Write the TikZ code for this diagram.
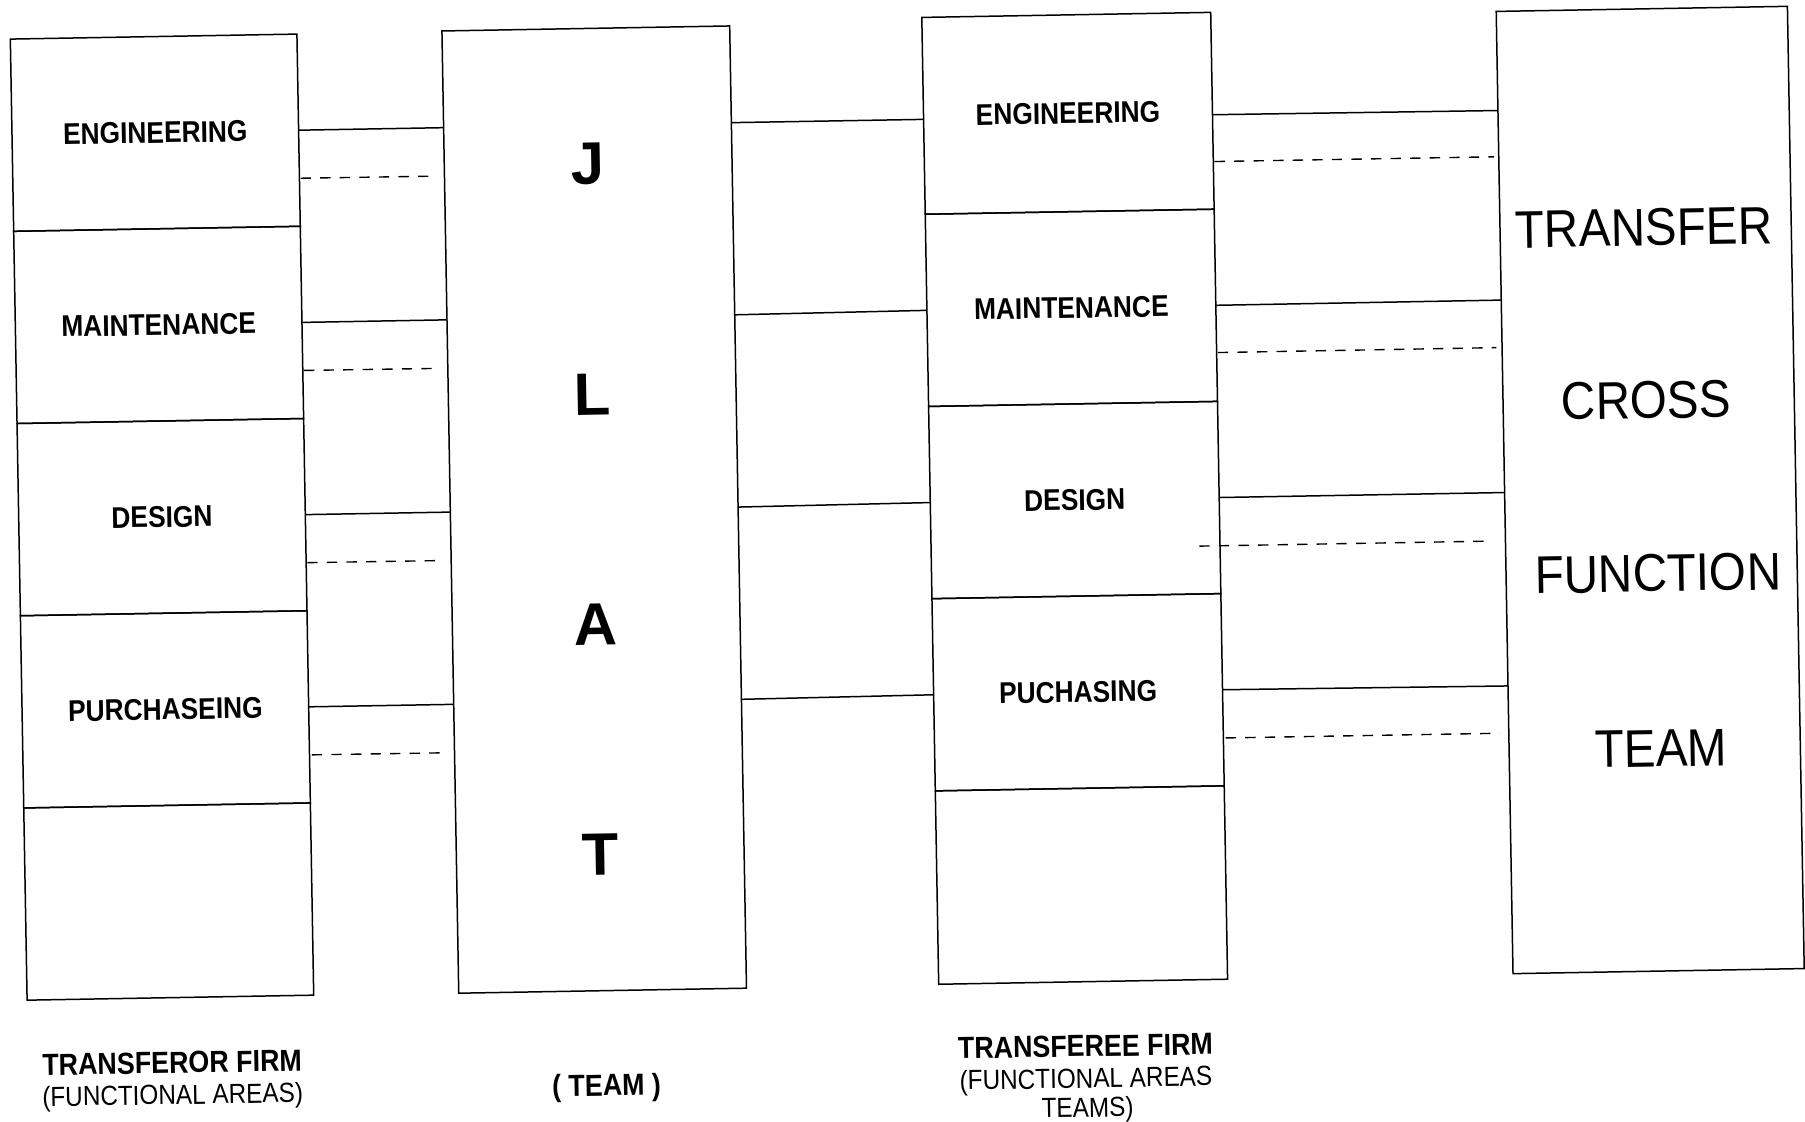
\documentclass[tikz,border=0pt]{standalone}
\usepackage{fontspec}
\setmainfont{Liberation Sans}
\usetikzlibrary{calc}
\newcommand\condtxt[2][0.88]{\scalebox{#1}[1]{#2}}
\begin{document}
\begin{tikzpicture}[x=1pt,y=-1pt,
  box/.style={draw, line width=1.3pt, inner sep=0pt, outer sep=0pt},
  cellbox/.style={box, minimum width=249pt, minimum height=167pt, font=\bfseries\fontsize{26}{30}\selectfont},
  tallbox/.style={box, minimum height=836pt},
  bigletter/.style={inner sep=0pt, font=\bfseries\fontsize{52}{56}\selectfont},
  tcfttext/.style={inner sep=0pt, font=\fontsize{46}{50}\selectfont},
  caphead/.style={inner sep=0pt, font=\bfseries\fontsize{26.5}{30}\selectfont},
  capsub/.style={inner sep=0pt, font=\fontsize{24}{28}\selectfont},
  link/.style={line width=1.3pt},
  dlink/.style={line width=1.2pt, dash pattern=on 9pt off 8pt}]
\fill[white] (0,0) rectangle (1568,974);
\useasboundingbox (0,0) rectangle (1568,974);
\begin{scope}[rotate around={1:(784,487)}, transform shape]
% transferor firm
\node[cellbox] (L1) at (141.5,104) {\condtxt{ENGINEERING}};
\node[cellbox] (L2) at (141.5,271) {\condtxt{MAINTENANCE}};
\node[cellbox] (L3) at (141.5,438) {\condtxt{DESIGN}};
\node[cellbox] (L4) at (141.5,605) {\condtxt{PURCHASEING}};
\node[cellbox] (L5) at (141.5,772) {};
% JLAT team
\node[tallbox, minimum width=250pt] (J) at (517,438) {};
\node[bigletter] (jl1) at (517,138) {J};
\node[bigletter] (jl2) at (517.5,338) {L};
\node[bigletter] (jl3) at (517,538) {A};
\node[bigletter] (jl4) at (517.5,738) {T};
% transferee firm
\node[cellbox, minimum width=251pt, minimum height=171pt] (T1) at (934.5,101) {\condtxt{ENGINEERING}};
\node[cellbox, minimum width=251pt] (T2) at (934.5,270) {\condtxt{MAINTENANCE}};
\node[cellbox, minimum width=251pt] (T3) at (934.5,437) {\condtxt{DESIGN}};
\node[cellbox, minimum width=251pt] (T4) at (934.5,604) {\condtxt{PUCHASING}};
\node[cellbox, minimum width=251pt, minimum height=168pt] (T5) at (934.5,771.5) {};
% transfer cross function team
\node[tallbox, minimum width=253pt] (C) at (1434.5,437) {};
\node[tcfttext] (c1) at (1433,209) {\condtxt[0.9]{TRANSFER}};
\node[tcfttext] (c2) at (1432.5,359) {\condtxt[0.9]{CROSS}};
\node[tcfttext] (c3) at (1440,509.5) {\condtxt[0.9]{FUNCTION}};
\node[tcfttext] (c4) at (1440,661.5) {\condtxt[0.9]{TEAM}};
% captions
\node[caphead] (cap1) at (142,912) {\condtxt{TRANSFEROR FIRM}};
\node[capsub] (cap2) at (142,942) {\condtxt{(FUNCTIONAL AREAS)}};
\node[caphead] (cap3) at (519,940.5) {\condtxt{( TEAM )}};
\node[caphead] (cap4) at (935.5,911.5) {\condtxt{TRANSFEREE FIRM}};
\node[capsub] (cap5) at (935.5,941.5) {\condtxt{(FUNCTIONAL AREAS}};
\node[capsub] (cap6) at (936.5,967) {\condtxt{TEAMS)}};
% transferor -> JLAT
\draw[link] (L1.east) -- ($(J.north west)!0.1005!(J.south west)$);
\draw[link] (L2.east) -- ($(J.north west)!0.3002!(J.south west)$);
\draw[link] (L3.east) -- ($(J.north west)!0.5!(J.south west)$);
\draw[link] (L4.east) -- ($(J.north west)!0.6998!(J.south west)$);
\draw[dlink, shorten <=1pt, shorten >=9pt] ($(L1.north east)!0.75!(L1.south east)$) -- ($(J.north west)!0.1507!(J.south west)$);
\draw[dlink, shorten <=1pt, shorten >=9pt] ($(L2.north east)!0.75!(L2.south east)$) -- ($(J.north west)!0.3505!(J.south west)$);
\draw[dlink, shorten <=1pt, shorten >=9pt] ($(L3.north east)!0.75!(L3.south east)$) -- ($(J.north west)!0.5502!(J.south west)$);
\draw[dlink, shorten <=2pt, shorten >=8pt] ($(L4.north east)!0.75!(L4.south east)$) -- ($(J.north west)!0.75!(J.south west)$);
% JLAT -> transferee
\draw[link] ($(J.north east)!0.1005!(J.south east)$) -- ($(T1.north west)!0.518!(T1.south west)$);
\draw[link] ($(J.north east)!0.3002!(J.south east)$) -- (T2.west);
\draw[link] ($(J.north east)!0.5!(J.south east)$) -- (T3.west);
\draw[link] ($(J.north east)!0.6998!(J.south east)$) -- (T4.west);
% transferee -> TCFT
\draw[link] ($(T1.north east)!0.52!(T1.south east)$) -- ($(C.north west)!0.103!(C.south west)$);
\draw[link] (T2.east) -- ($(C.north west)!0.3!(C.south west)$);
\draw[link] (T3.east) -- ($(C.north west)!0.5!(C.south west)$);
\draw[link] (T4.east) -- ($(C.north west)!0.701!(C.south west)$);
\draw[dlink, shorten <=1pt, shorten >=4pt] ($(T1.north east)!0.758!(T1.south east)$) -- ($(C.north west)!0.151!(C.south west)$);
\draw[dlink, shorten <=1pt, shorten >=5pt] ($(T2.north east)!0.746!(T2.south east)$) -- ($(C.north west)!0.3493!(C.south west)$);
\draw[dlink, shorten <=-18pt, shorten >=18pt] ($(T3.north east)!0.751!(T3.south east)$) -- ($(C.north west)!0.5502!(C.south west)$);
\draw[dlink, shorten <=2pt, shorten >=8pt] ($(T4.north east)!0.751!(T4.south east)$) -- ($(C.north west)!0.75!(C.south west)$);
\end{scope}
\end{tikzpicture}
\end{document}
